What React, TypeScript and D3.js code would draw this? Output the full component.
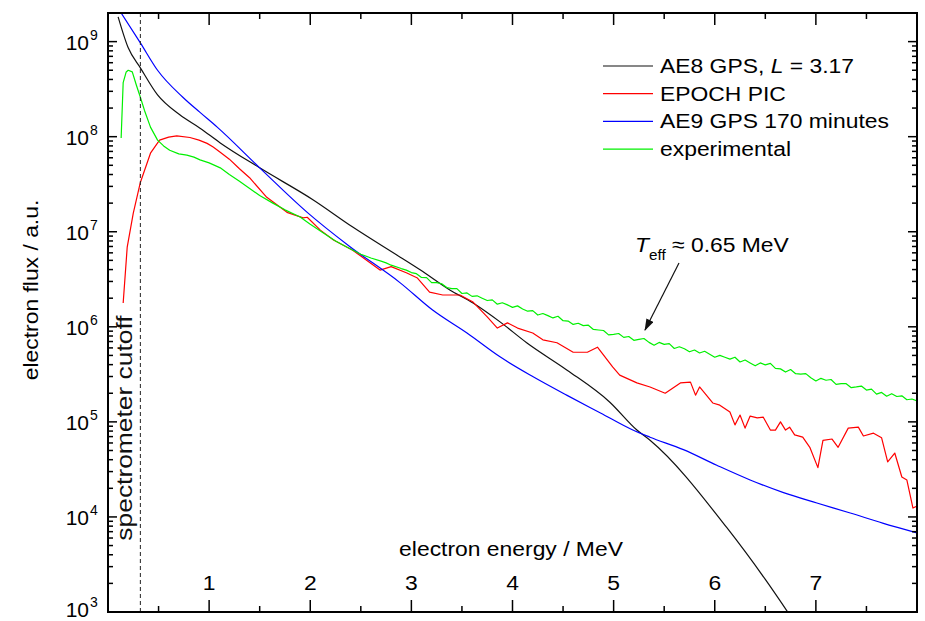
import React from "react";
import * as d3 from "d3";

const FONT = "'Liberation Sans', Arial, Helvetica, sans-serif";

// AE8 GPS, L = 3.17
const energyAE8 = [0.1, 0.2, 0.32, 0.49, 0.71, 0.91, 1.11, 1.5, 2.03, 2.42, 2.89, 3.09, 3.38, 3.61, 3.88, 4.14, 4.54, 4.96, 5.23, 5.36, 6.12, 6.5, 6.8];
const fluxAE8 = [1.82e9, 8.6e8, 5.3e8, 2.75e8, 1.7e8, 1.23e8, 8.6e7, 4.7e7, 2.16e7, 1.12e7, 5.4e6, 3.95e6, 2.44e6, 1.78e6, 1.12e6, 6.8e5, 3.5e5, 1.62e5, 8.2e4, 6.4e4, 7.7e3, 2.2e3, 7.5e2];

// AE9 GPS 170 minutes
const energyAE9 = [0.13, 0.32, 0.49, 0.74, 0.91, 1.08, 1.5, 1.97, 2.39, 2.89, 3.21, 3.55, 3.88, 4.2, 4.54, 4.87, 5.19, 5.36, 5.69, 6.02, 6.35, 6.68, 7.01, 7.34, 7.66, 8.0];
const fluxAE9 = [2.0e9, 9.7e8, 5.0e8, 2.6e8, 1.8e8, 1.26e8, 4.7e7, 1.6e7, 7.0e6, 2.9e6, 1.5e6, 8.6e5, 4.8e5, 3.0e5, 1.9e5, 1.24e5, 8.2e4, 6.9e4, 5.1e4, 3.5e4, 2.45e4, 1.8e4, 1.4e4, 1.1e4, 8.6e3, 6.8e3];

// EPOCH PIC
const energyPIC = [0.15, 0.19, 0.25, 0.32, 0.42, 0.51, 0.6, 0.68, 0.81, 0.9, 0.98, 1.04, 1.1, 1.2, 1.3, 1.4, 1.57, 1.77, 1.93, 1.97, 2.1, 2.23, 2.42, 2.69, 2.8, 2.95, 3.06, 3.18, 3.31, 3.48, 3.61, 3.75, 3.85, 3.95, 4.05, 4.2, 4.3, 4.44, 4.6, 4.74, 4.84, 4.99, 5.06, 5.23, 5.36, 5.51, 5.66, 5.76, 5.81, 5.85, 5.98, 6.05, 6.15, 6.2, 6.25, 6.3, 6.35, 6.42, 6.48, 6.55, 6.6, 6.65, 6.7, 6.74, 6.79, 6.87, 6.94, 7.02, 7.07, 7.16, 7.22, 7.32, 7.42, 7.47, 7.57, 7.65, 7.71, 7.78, 7.85, 7.9, 7.96, 8.0];
const fluxPIC = [1.78e6, 6.9e6, 1.57e7, 3.3e7, 6.7e7, 9.2e7, 9.9e7, 1.02e8, 9.8e7, 9.2e7, 8.5e7, 7.8e7, 7.0e7, 5.8e7, 4.6e7, 3.7e7, 2.3e7, 1.6e7, 1.4e7, 1.42e7, 1.04e7, 8.2e6, 6.4e6, 3.95e6, 4.3e6, 3.7e6, 3.26e6, 2.32e6, 2.16e6, 2.16e6, 1.82e6, 1.27e6, 9.7e5, 1.1e6, 9.7e5, 8.6e5, 7.3e5, 6.8e5, 5.4e5, 5.4e5, 6.1e5, 3.78e5, 3.1e5, 2.57e5, 2.33e5, 2.0e5, 2.57e5, 2.62e5, 1.91e5, 2.33e5, 1.58e5, 1.5e5, 1.27e5, 9.3e4, 1.18e5, 8.6e4, 1.15e5, 1.1e5, 1.12e5, 8.2e4, 8.2e4, 1.0e5, 8.2e4, 8.8e4, 7.3e4, 6.9e4, 5.4e4, 3.3e4, 6.4e4, 6.6e4, 5.4e4, 8.6e4, 8.8e4, 7.1e4, 7.6e4, 6.8e4, 3.8e4, 4.7e4, 2.63e4, 2.44e4, 1.24e4, 1.3e4];

// experimental
const energyExp = [
  0.13, 0.15, 0.18, 0.2, 0.24, 0.28, 0.32, 0.36, 0.42, 0.49, 0.55, 0.61, 0.7, 0.78, 0.85, 0.91, 1.0, 1.11, 1.2, 1.3, 1.38, 1.5, 1.63, 1.75, 1.9, 2.0, 2.13, 2.25, 2.36, 2.5, 2.6, 2.7, 2.75, 2.8, 2.9, 2.95,
  3.0, 3.05, 3.1, 3.15, 3.2, 3.25, 3.3, 3.35, 3.4, 3.45, 3.5, 3.55, 3.6, 3.65, 3.7, 3.75, 3.8, 3.85, 3.9, 3.95,
  4.0, 4.05, 4.1, 4.15, 4.2, 4.25, 4.3, 4.35, 4.4, 4.45, 4.5, 4.55, 4.6, 4.65, 4.7, 4.75, 4.8, 4.85, 4.9, 4.95,
  5.0, 5.05, 5.1, 5.15, 5.2, 5.25, 5.3, 5.35, 5.4, 5.45, 5.5, 5.55, 5.6, 5.65, 5.7, 5.75, 5.8, 5.85, 5.9, 5.95,
  6.0, 6.05, 6.1, 6.15, 6.2, 6.25, 6.3, 6.35, 6.4, 6.45, 6.5, 6.55, 6.6, 6.65, 6.7, 6.75, 6.8, 6.85, 6.9, 6.95,
  7.0, 7.05, 7.1, 7.15, 7.2, 7.25, 7.3, 7.35, 7.4, 7.45, 7.5, 7.55, 7.6, 7.65, 7.7, 7.75, 7.8, 7.85, 7.9, 7.95, 8.0,
];
const fluxExp = [
  9.7e7, 3.7e8, 4.8e8, 5.0e8, 4.8e8, 3.5e8, 2.6e8, 1.9e8, 1.26e8, 9.2e7, 8.0e7, 7.2e7, 6.6e7, 6.4e7, 6.1e7, 5.7e7, 5.3e7, 4.7e7, 4.0e7, 3.4e7, 2.96e7, 2.4e7, 2.0e7, 1.7e7, 1.43e7, 1.2e7, 9.7e6, 8.0e6, 6.9e6, 5.8e6, 5.3e6, 4.9e6, 4.7e6, 4.45e6, 4.1e6, 3.95e6,
  3.72e6, 3.62e6, 3.3e6, 3.29e6, 2.92e6, 2.92e6, 2.84e6, 2.59e6, 2.52e6, 2.52e6, 2.24e6, 2.27e6, 2.09e6, 2.12e6, 2.0e6, 1.89e6, 1.92e6, 1.73e6, 1.79e6, 1.7e6,
  1.6e6, 1.66e6, 1.54e6, 1.46e6, 1.48e6, 1.33e6, 1.38e6, 1.31e6, 1.24e6, 1.29e6, 1.16e6, 1.15e6, 1.06e6, 1.09e6, 1.03e6, 1.04e6, 9.38e5, 9.26e5, 9.14e5, 8.23e5,
  8.32e5, 8.5e5, 7.74e5, 7.91e5, 7.21e5, 7.37e5, 7.53e5, 6.86e5, 6.4e5, 6.85e5, 6.53e5, 6.66e5, 5.92e5, 6.17e5, 5.87e5, 5.46e5, 5.7e5, 5.3e5, 5.53e5, 5.15e5,
  4.79e5, 5.01e5, 4.79e5, 4.57e5, 4.79e5, 4.27e5, 4.47e5, 4.17e5, 3.89e5, 4.17e5, 3.98e5, 4.13e5, 3.65e5, 3.61e5, 3.34e5, 3.55e5, 3.21e5, 3.18e5, 3.22e5, 2.91e5,
  2.69e5, 2.87e5, 2.74e5, 2.79e5, 2.48e5, 2.53e5, 2.52e5, 2.29e5, 2.33e5, 2.38e5, 2.16e5, 2.21e5, 1.96e5, 2.04e5, 1.86e5, 1.98e5, 1.85e5, 1.88e5, 1.71e5, 1.74e5, 1.66e5,
];

const seriesNames = ["AE8 GPS, ", "EPOCH PIC", "AE9 GPS 170 minutes", "experimental"];
const seriesColors = ["#111111", "#ff0000", "#0000ff", "#00f000"];
const xTickValues = [1, 2, 3, 4, 5, 6, 7];
const xMinorValues = [0.5, 1.5, 2.5, 3.5, 4.5, 5.5, 6.5, 7.5];
const yDecades = [3, 4, 5, 6, 7, 8, 9];
const cutoffEnergy = 0.32;

const SX = 1.09; // horizontal glyph stretch of the original rendering

export default function App() {
  const left = 108, right = 917, top = 13, bottom = 612;
  const x = d3.scaleLinear().domain([0, 8]).range([left, right]);
  const y = d3.scaleLog().domain([1e3, 2e9]).range([bottom, top]);

  const mk = (es: number[], fs: number[], curve: any) =>
    d3.line<number>().x((_, i) => x(es[i])).y((_, i) => y(fs[i])).curve(curve)(fs) || "";

  const paths = [
    mk(energyAE8, fluxAE8, d3.curveMonotoneX),
    mk(energyPIC, fluxPIC, d3.curveLinear),
    mk(energyAE9, fluxAE9, d3.curveMonotoneX),
    mk(energyExp, fluxExp, d3.curveLinear),
  ];

  const minorY: number[] = [];
  for (const d of yDecades) {
    for (let m = 2; m <= 9; m++) {
      const v = m * Math.pow(10, d);
      if (v < 2e9) minorY.push(v);
    }
  }

  const legendY0 = 66, legendDy = 27.7;
  const tr = (tx: number, ty: number, rot?: number, sx: number = SX) =>
    `translate(${tx},${ty})${rot ? ` rotate(${rot})` : ""} scale(${sx},1)`;

  return (
    <svg width={925} height={621} style={{ position: "absolute", left: 0, top: 0, background: "#fff" }} fontFamily={FONT}>
      <defs>
        <clipPath id="plotclip">
          <rect x={left} y={top} width={right - left} height={bottom - top} />
        </clipPath>
        <marker id="arrowhead" viewBox="0 0 12 8" refX="11" refY="4" markerWidth="12" markerHeight="8" markerUnits="userSpaceOnUse" orient="auto">
          <path d="M0,0 L12,4 L0,8 Z" fill="#111" />
        </marker>
      </defs>
      <rect x={0} y={0} width={925} height={621} fill="#fff" />

      {/* curves */}
      <g clipPath="url(#plotclip)" fill="none" strokeWidth={1.2} strokeLinejoin="round">
        {paths.map((p, i) => (
          <path key={i} d={p} stroke={seriesColors[i]} />
        ))}
      </g>

      {/* cutoff dashed line */}
      <line x1={x(cutoffEnergy)} x2={x(cutoffEnergy)} y1={top} y2={bottom} stroke="#222" strokeWidth={1} strokeDasharray="4,3" />
      <text transform={tr(x(cutoffEnergy) - 8, 428, -90, 1.2)} textAnchor="middle" fontSize={22} fill="#111">spectrometer cutoff</text>

      {/* ticks */}
      <g stroke="#000" strokeWidth={1.5}>
        {xTickValues.map((v) => (
          <g key={"xt" + v}>
            <line x1={x(v)} x2={x(v)} y1={bottom} y2={bottom - 12} />
            <line x1={x(v)} x2={x(v)} y1={top} y2={top + 12} />
          </g>
        ))}
        {xMinorValues.map((v) => (
          <g key={"xm" + v}>
            <line x1={x(v)} x2={x(v)} y1={bottom} y2={bottom - 6} />
            <line x1={x(v)} x2={x(v)} y1={top} y2={top + 6} />
          </g>
        ))}
        {yDecades.map((d) => (
          <g key={"yt" + d}>
            <line x1={left} x2={left + 9} y1={y(Math.pow(10, d))} y2={y(Math.pow(10, d))} />
            <line x1={right} x2={right - 9} y1={y(Math.pow(10, d))} y2={y(Math.pow(10, d))} />
          </g>
        ))}
        {minorY.map((v, i) => (
          <g key={"ym" + i}>
            <line x1={left} x2={left + 5} y1={y(v)} y2={y(v)} />
            <line x1={right} x2={right - 5} y1={y(v)} y2={y(v)} />
          </g>
        ))}
      </g>

      {/* frame */}
      <rect x={left} y={top} width={right - left} height={bottom - top} fill="none" stroke="#000" strokeWidth={2} />

      {/* y tick labels */}
      {yDecades.map((d) => {
        const ty = Math.min(y(Math.pow(10, d)), 609);
        return (
          <g key={"yl" + d} fill="#000">
            <text x={89} y={ty + 8} textAnchor="end" fontSize={21}>10</text>
            <text x={90} y={ty - 2} fontSize={14}>{d}</text>
          </g>
        );
      })}

      {/* x tick labels (inside) */}
      {xTickValues.map((v) => (
        <text key={"xl" + v} transform={tr(x(v), 590)} textAnchor="middle" fontSize={21} fill="#000">{v}</text>
      ))}

      {/* axis titles */}
      <text transform={tr(511, 556)} textAnchor="middle" fontSize={21} fill="#000">electron energy / MeV</text>
      <text transform={tr(38, 290, -90)} textAnchor="middle" fontSize={21} fill="#000">electron flux / a.u.</text>

      {/* legend */}
      {seriesNames.map((name, i) => (
        <g key={"lg" + i}>
          <line x1={603} x2={653} y1={legendY0 + i * legendDy} y2={legendY0 + i * legendDy} stroke={seriesColors[i]} strokeWidth={1.2} />
          <text transform={tr(660, legendY0 + i * legendDy + 7)} fontSize={21} fill="#000">
            {name}
            {i === 0 && <tspan fontStyle="italic">L</tspan>}
            {i === 0 && <tspan> = 3.17</tspan>}
          </text>
        </g>
      ))}

      {/* T_eff annotation */}
      <text transform={tr(635, 252)} fontSize={21} fill="#000">
        <tspan fontStyle="italic">T</tspan>
        <tspan dy={8} fontSize={14}>eff</tspan>
        <tspan dy={-8}> ≈ 0.65 MeV</tspan>
      </text>
      <line x1={679} y1={263} x2={645} y2={330} stroke="#111" strokeWidth={1.2} markerEnd="url(#arrowhead)" />
    </svg>
  );
}
